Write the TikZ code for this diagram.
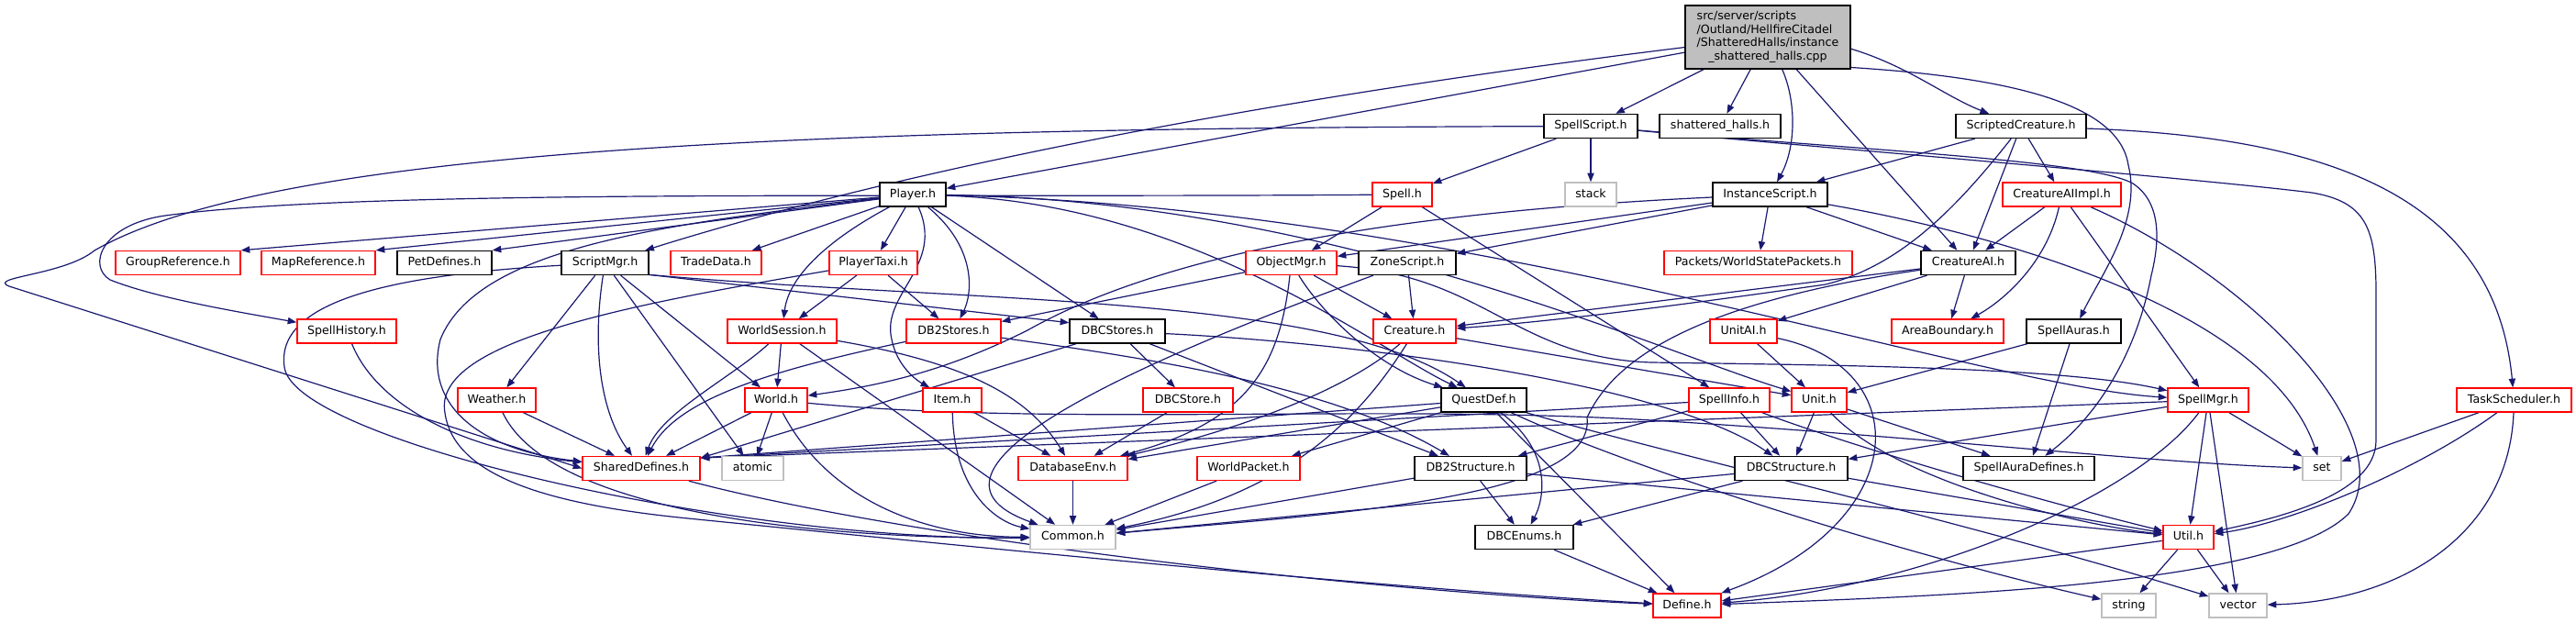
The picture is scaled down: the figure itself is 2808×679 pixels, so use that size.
\documentclass[tikz,border=0pt]{standalone}
\usepackage{fontspec}
\newfontfamily\dejavufam{DejaVu Sans}
\usetikzlibrary{arrows.meta}
\definecolor{edgec}{HTML}{191970}
\definecolor{redb}{HTML}{FF0000}
\definecolor{grayb}{HTML}{BFBFBF}
\newcommand\nodefnt{\dejavufam\fontsize{6.3pt}{7.35pt}\selectfont}
\newcommand\rootstrut{\rule[-2.1pt]{0pt}{7.35pt}}
\pgfdeclarelayer{bg}
\pgfdeclarelayer{edges}
\pgfsetlayers{bg,edges,main}
\tikzset{
  nbase/.style={draw, fill=white, inner sep=0pt, minimum height=13pt, line width=0.7pt,
    font=\nodefnt, text=black, text height=4.8pt, text depth=1.5pt},
  blk/.style={nbase, draw=black},
  rd/.style={nbase, draw=redb},
  gry/.style={nbase, draw=grayb},
  bw/.style={minimum width=#1*0.5pt},
  rootn/.style={draw=black, fill=grayb, line width=0.7pt, inner sep=0pt,
    minimum width=90pt, minimum height=34.5pt, font=\nodefnt, text=black},
  ed/.style={draw=edgec, line width=0.6pt, -{Triangle[length=4.8pt,width=3.6pt]}}
}
\begin{document}
\begin{tikzpicture}[x=0.5pt,y=-0.5pt]
\begin{pgfonlayer}{bg}
\fill[white] (0,0) rectangle (2808,679);
\end{pgfonlayer}
\useasboundingbox (0,0) rectangle (2808,679);

% ---------- nodes ----------
\node[rootn] (R) at (1927,40.5) {\renewcommand\arraystretch{0}\begin{tabular}{@{}l@{}}\rootstrut src/server/scripts\\\rootstrut /Outland/HellfireCitadel\\\rootstrut /ShatteredHalls/instance\\\multicolumn{1}{@{}c@{}}{\rootstrut \_shattered\_halls.cpp}\end{tabular}};

\node[blk,bw=102] (SS) at (1734,137.5) {SpellScript.h};
\node[blk,bw=132] (SH) at (1875,137.5) {shattered\_halls.h};
\node[blk,bw=142] (SC) at (2203,137.5) {ScriptedCreature.h};

\node[blk,bw=72] (PL) at (995,212) {Player.h};
\node[rd,bw=65] (SP) at (1528.5,212) {Spell.h};
\node[gry,bw=56] (ST) at (1734,212) {stack};
\node[blk,bw=125] (IS) at (1929.5,212) {InstanceScript.h};
\node[rd,bw=129] (CAII) at (2247.5,212) {CreatureAIImpl.h};

\node[rd,bw=136] (GR) at (194,286.5) {GroupReference.h};
\node[rd,bw=124] (MR) at (347,286.5) {MapReference.h};
\node[blk,bw=103] (PD) at (484.5,286.5) {PetDefines.h};
\node[blk,bw=95] (SM) at (659.5,286.5) {ScriptMgr.h};
\node[rd,bw=99] (TD) at (780.5,286.5) {TradeData.h};
\node[rd,bw=96] (PT) at (952,286.5) {PlayerTaxi.h};
\node[rd,bw=99] (OM) at (1407.5,286.5) {ObjectMgr.h};
\node[blk,bw=106] (ZS) at (1534,286.5) {ZoneScript.h};
\node[rd,bw=205] (WSP) at (1916.5,286.5) {Packets/WorldStatePackets.h};
\node[blk,bw=103] (CAI) at (2145.5,286.5) {CreatureAI.h};

\node[rd,bw=108] (SPH) at (378,361) {SpellHistory.h};
\node[rd,bw=119] (WS) at (852.5,361) {WorldSession.h};
\node[rd,bw=103] (DB2S) at (1039.5,361) {DB2Stores.h};
\node[blk,bw=104] (DBCS) at (1218,361) {DBCStores.h};
\node[rd,bw=90] (CR) at (1542,361) {Creature.h};
\node[rd,bw=73] (UAI) at (1900.5,361) {UnitAI.h};
\node[rd,bw=122] (AB) at (2123,361) {AreaBoundary.h};
\node[blk,bw=103] (SA) at (2260.5,361) {SpellAuras.h};

\node[rd,bw=85] (WE) at (541.5,436) {Weather.h};
\node[rd,bw=68] (WO) at (846,436) {World.h};
\node[rd,bw=64] (IT) at (1038,436) {Item.h};
\node[rd,bw=98] (DBCST) at (1295,436) {DBCStore.h};
\node[blk,bw=93] (QD) at (1617.5,436) {QuestDef.h};
\node[rd,bw=88] (SI) at (1885,436) {SpellInfo.h};
\node[rd,bw=60] (UN) at (1983,436) {Unit.h};
\node[rd,bw=88] (SMG) at (2407,436) {SpellMgr.h};
\node[rd,bw=125] (TS) at (2740.5,436) {TaskScheduler.h};

\node[rd,bw=128] (SD) at (699,510.5) {SharedDefines.h};
\node[gry,bw=67] (AT) at (820.5,510.5) {atomic};
\node[rd,bw=119] (DBE) at (1169.5,510.5) {DatabaseEnv.h};
\node[rd,bw=112] (WP) at (1361,510.5) {WorldPacket.h};
\node[blk,bw=122] (D2ST) at (1603,510.5) {DB2Structure.h};
\node[blk,bw=123] (DBCSTR) at (1952.5,510.5) {DBCStructure.h};
\node[blk,bw=143] (SAD) at (2211.5,510.5) {SpellAuraDefines.h};
\node[gry,bw=42] (SET) at (2531,510.5) {set};

\node[gry,bw=93] (CM) at (1169.5,585.5) {Common.h};
\node[blk,bw=107] (DE) at (1661.5,585.5) {DBCEnums.h};
\node[rd,bw=55] (UT) at (2385.5,585.5) {Util.h};

\node[rd,bw=74] (DF) at (1839,660) {Define.h};
\node[gry,bw=59] (STR) at (2320.5,660) {string};
\node[gry,bw=63] (VEC) at (2439.5,660) {vector};

% ---------- edges ----------
\begin{pgfonlayer}{edges}
% root
\draw[ed] (R) -- (SS);
\draw[ed] (R) -- (SH);
\draw[ed] (R) .. controls (1958,110) and (1958,160) .. (IS);
\draw[ed] (R) -- (PL);
\draw[ed] (R) .. controls (1400,105) and (1000,180) .. (SM);
\draw[ed] (R) -- (CAI);
\draw[ed] (R.-8) .. controls (2080,72) and (2120,105) .. (SC);
\draw[ed] (R.-20) .. controls (2200,85) and (2310,115) .. (2320,180) .. controls (2335,240) and (2290,300) .. (SA);
% SpellScript
\draw[ed] (SS) -- (SP);
\draw[ed] (SS) -- (ST);
\draw[ed] (SS) .. controls (900,140) and (300,160) .. (103,273) .. controls (70,300) and (-15,302) .. (10,312) -- (SD.west);
\draw[ed] (SS) .. controls (2000,162) and (2400,195) .. (2520,210) .. controls (2580,220) and (2590,250) .. (2590,320) -- (2590,480) .. controls (2590,540) and (2480,565) .. (UT);
\draw[ed] (SS) .. controls (2050,165) and (2280,175) .. (2325,200) .. controls (2355,220) and (2355,260) .. (2345,300) .. controls (2330,380) and (2290,450) .. (SAD);
% ScriptedCreature
\draw[ed] (SC) -- (IS);
\draw[ed] (SC) -- (CAII);
\draw[ed] (SC) -- (CAI);
\draw[ed] (SC) .. controls (2130,230) and (2070,290) .. (1990,310) .. controls (1850,330) and (1700,350) .. (CR);
\draw[ed] (SC) .. controls (2550,150) and (2720,220) .. (TS);
% InstanceScript
\draw[ed] (IS) -- (OM);
\draw[ed] (IS) -- (ZS);
\draw[ed] (IS) -- (WSP);
\draw[ed] (IS) -- (CAI);
\draw[ed] (IS) .. controls (1550,230) and (1280,270) .. (1120,360) .. controls (1030,405) and (960,420) .. (WO);
\draw[ed] (IS) .. controls (2150,250) and (2470,330) .. (SET);
% CreatureAIImpl
\draw[ed] (CAII) -- (CAI);
\draw[ed] (CAII) -- (SMG);
\draw[ed] (CAII) .. controls (2230,290) and (2180,330) .. (AB);
\draw[ed] (CAII) .. controls (2450,300) and (2620,470) .. (2560,560) .. controls (2480,640) and (2100,650) .. (DF);
% Player
\draw[ed] (PL) -- (GR.north east);
\draw[ed] (PL) -- (MR.north east);
\draw[ed] (PL) -- (PD.north east);
\draw[ed] (PL) -- (TD);
\draw[ed] (PL) -- (PT);
\draw[ed] (PL) .. controls (720,245) and (520,270) .. (480,370) .. controls (462,440) and (520,490) .. (SD);
\draw[ed] (PL) .. controls (905,260) and (860,300) .. (WS);
\draw[ed] (PL) .. controls (1030,290) and (960,320) .. (972,370) .. controls (978,400) and (1000,415) .. (IT);
\draw[ed] (PL) .. controls (1065,270) and (1060,320) .. (DB2S);
\draw[ed] (PL) -- (DBCS);
\draw[ed] (PL) .. controls (1300,222) and (1500,380) .. (QD);
\draw[ed] (PL) .. controls (1450,218) and (1800,380) .. (UN);
\draw[ed] (PL) .. controls (1600,225) and (2150,420) .. (SMG);
% Spell
\draw[ed] (SP) .. controls (1000,216) and (400,205) .. (180,235) .. controls (110,245) and (95,290) .. (120,305) .. controls (170,325) and (260,340) .. (SPH);
\draw[ed] (SP) -- (OM);
\draw[ed] (SP) -- (SI);
% ScriptMgr
\draw[ed] (SM) -- (WE);
\draw[ed] (SM) .. controls (645,380) and (655,450) .. (SD);
\draw[ed] (SM) -- (WO);
\draw[ed] (SM) -- (AT);
\draw[ed] (SM.-15) -- (DBCS.170);
\draw[ed] (SM.-15) .. controls (1050,330) and (1450,320) .. (QD);
\draw[ed] (SM) .. controls (420,300) and (300,330) .. (310,400) .. controls (320,480) and (800,590) .. (CM);
% SpellHistory
\draw[ed] (SPH) .. controls (410,440) and (500,490) .. (SD);
% PlayerTaxi
\draw[ed] (PT) -- (WS);
\draw[ed] (PT) -- (DB2S);
\draw[ed] (PT) .. controls (700,330) and (470,370) .. (485,450) .. controls (495,520) and (600,550) .. (750,565) .. controls (1100,600) and (1500,640) .. (DF);
% WorldSession
\draw[ed] (WS) -- (WO);
\draw[ed] (WS) .. controls (800,410) and (720,450) .. (SD);
\draw[ed] (WS) -- (CM);
\draw[ed] (WS) .. controls (1050,395) and (1120,430) .. (DBE);
% DB2Stores
\draw[ed] (DB2S) .. controls (860,400) and (740,430) .. (SD);
\draw[ed] (DB2S) .. controls (1250,390) and (1450,420) .. (D2ST);
% DBCStores
\draw[ed] (DBCS) -- (SD.10);
\draw[ed] (DBCS) -- (DBCST);
\draw[ed] (DBCS) -- (D2ST);
\draw[ed] (DBCS) .. controls (1500,375) and (1820,420) .. (DBCSTR);
% ObjectMgr
\draw[ed] (OM) -- (DB2S);
\draw[ed] (OM) -- (CR);
\draw[ed] (OM) .. controls (1440,340) and (1500,400) .. (QD);
\draw[ed] (OM) .. controls (1395,400) and (1360,460) .. (DBE);
\draw[ed] (OM) .. controls (1620,300) and (1650,390) .. (1800,395) .. controls (2000,398) and (2250,400) .. (SMG);
% ZoneScript
\draw[ed] (ZS) -- (CR);
\draw[ed] (ZS) .. controls (1280,380) and (960,510) .. (CM);
% CreatureAI
\draw[ed] (CAI) -- (CR);
\draw[ed] (CAI) -- (UAI);
\draw[ed] (CAI) -- (AB);
\draw[ed] (CAI) .. controls (1850,330) and (1760,390) .. (1730,455) .. controls (1740,545) and (1450,560) .. (CM);
% Creature
\draw[ed] (CR) -- (UN);
\draw[ed] (CR) .. controls (1450,440) and (1300,480) .. (DBE);
\draw[ed] (CR) .. controls (1480,460) and (1400,540) .. (CM);
% UnitAI
\draw[ed] (UAI) -- (UN);
\draw[ed] (UAI) .. controls (2090,400) and (2085,570) .. (DF);
% SpellAuras
\draw[ed] (SA) -- (UN);
\draw[ed] (SA) -- (SAD);
% Weather
\draw[ed] (WE) -- (SD);
\draw[ed] (WE) .. controls (600,560) and (900,588) .. (CM);
% World
\draw[ed] (WO) -- (SD);
\draw[ed] (WO) -- (AT);
\draw[ed] (WO) .. controls (900,540) and (1000,585) .. (CM);
\draw[ed] (WO) .. controls (1150,465) and (1500,440) .. (1800,458) .. controls (2100,476) and (2350,505) .. (SET);
% Item
\draw[ed] (IT) -- (DBE);
\draw[ed] (IT) .. controls (1040,540) and (1090,570) .. (CM);
% DBCStore
\draw[ed] (DBCST) -- (DBE);
% QuestDef
\draw[ed] (QD) -- (SD.10);
\draw[ed] (QD) -- (DBE);
\draw[ed] (QD) -- (WP);
\draw[ed] (QD) .. controls (1690,490) and (1685,540) .. (DE);
\draw[ed] (QD) -- (DF);
\draw[ed] (QD) .. controls (1800,520) and (2100,610) .. (STR);
\draw[ed] (QD) .. controls (1800,490) and (2150,570) .. (VEC);
% SpellInfo
\draw[ed] (SI) -- (SD.10);
\draw[ed] (SI) -- (D2ST);
\draw[ed] (SI) -- (DBCSTR);
\draw[ed] (SI) .. controls (2000,480) and (2200,540) .. (UT);
% Unit
\draw[ed] (UN) -- (DBCSTR);
\draw[ed] (UN) -- (SAD);
\draw[ed] (UN) .. controls (2060,520) and (2250,570) .. (UT);
% SpellMgr
\draw[ed] (SMG) -- (SD.10);
\draw[ed] (SMG) -- (DBCSTR);
\draw[ed] (SMG) -- (UT);
\draw[ed] (SMG) -- (VEC);
\draw[ed] (SMG) -- (SET);
\draw[ed] (SMG) .. controls (2330,540) and (2100,640) .. (DF);
% TaskScheduler
\draw[ed] (TS) -- (SET);
\draw[ed] (TS) .. controls (2640,510) and (2500,570) .. (UT);
\draw[ed] (TS) .. controls (2735,580) and (2620,655) .. (VEC);
% SharedDefines
\draw[ed] (SD) .. controls (1000,590) and (1500,645) .. (DF);
% lower rows
\draw[ed] (DBE) -- (CM);
\draw[ed] (WP) -- (CM);
\draw[ed] (D2ST) -- (CM);
\draw[ed] (D2ST) -- (DE);
\draw[ed] (D2ST) -- (UT);
\draw[ed] (DBCSTR) -- (CM);
\draw[ed] (DBCSTR) -- (DE);
\draw[ed] (DBCSTR) -- (UT);
\draw[ed] (DE) -- (DF);
\draw[ed] (UT) -- (STR);
\draw[ed] (UT) -- (VEC);
\draw[ed] (UT) -- (DF);
\end{pgfonlayer}
\end{tikzpicture}
\end{document}
